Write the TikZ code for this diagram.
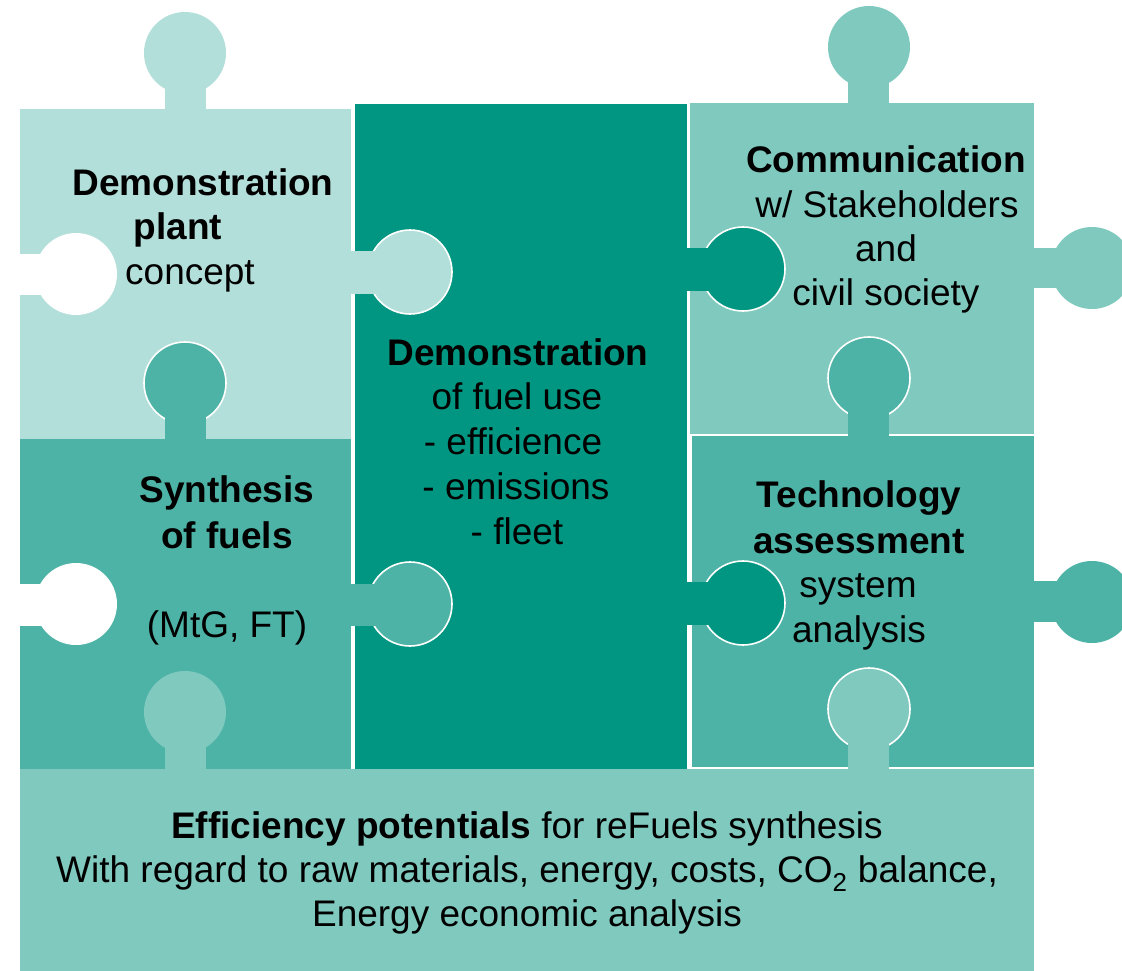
\documentclass[tikz,border=0pt]{standalone}
\usepackage{fontspec}
\setmainfont{Liberation Sans}
\definecolor{cLight}{HTML}{B2DFDA}
\definecolor{cMid}{HTML}{4DB3A6}
\definecolor{cDark}{HTML}{009681}
\definecolor{cSoft}{HTML}{7FC9BF}
\tikzset{
  txt/.style={anchor=base, inner sep=0pt, font=\fontsize{37}{44}\selectfont},
  btxt/.style={anchor=base, inner sep=0pt, font=\fontsize{37}{44}\selectfont\bfseries},
  rim/.style={draw=white, line width=1.6pt},
}
\begin{document}
\begin{tikzpicture}[x=1pt,y=-1pt]
\useasboundingbox (0,0) rectangle (1122,970);
\clip (0,0) rectangle (1122,970);
% piece bodies
\fill[cLight] (20,109) rectangle (351,439);
\fill[cMid]   (20,439) rectangle (351,769);
\fill[cDark]  (355,104) rectangle (687,769);
\fill[cSoft]  (690,103) rectangle (1034,434);
\fill[cMid]   (692,436) rectangle (1034,767);
\fill[cSoft]  (20,769) rectangle (1034,980);
% piece 1 tabs
\fill[cLight] (185,53) circle[radius=41];
\fill[cLight] (165,53) rectangle (206,110);
\fill[white] (76,274) circle[radius=41];
\fill[white] (15,254) rectangle (76,295);
\filldraw[fill=cLight, rim] (410,272) circle[radius=42];
\fill[cLight] (350,251) rectangle (410,294);
% synthesis tabs
\filldraw[fill=cMid, rim] (185,383) circle[radius=41];
\fill[cMid] (165,383) rectangle (206,440);
\fill[white] (76,604) circle[radius=41];
\fill[white] (15,584) rectangle (76,626);
\filldraw[fill=cMid, rim] (410,604) circle[radius=42];
\fill[cMid] (350,584) rectangle (410,626);
% bottom piece tab into synthesis
\fill[cSoft] (185,712) circle[radius=41];
\fill[cSoft] (165,712) rectangle (206,770);
% middle tabs
\filldraw[fill=cDark, rim] (743,269) circle[radius=42];
\fill[cDark] (686,248) rectangle (743,291);
\filldraw[fill=cDark, rim] (743,603) circle[radius=42];
\fill[cDark] (686,582) rectangle (743,625);
% communication tabs
\fill[cSoft] (869,47) circle[radius=41];
\fill[cSoft] (848,47) rectangle (889,104);
\fill[cSoft] (1092,268) circle[radius=41];
\fill[cSoft] (1033,248) rectangle (1092,288);
% technology tabs
\filldraw[fill=cMid, rim] (869,378) circle[radius=41];
\fill[cMid] (848,378) rectangle (889,437);
\fill[cMid] (1092,602) circle[radius=41];
\fill[cMid] (1033,581) rectangle (1092,622);
% bottom tab into technology
\filldraw[fill=cSoft, rim] (869,709) circle[radius=41];
\fill[cSoft] (848,709) rectangle (889,770);
% texts: demonstration plant
\node[btxt] (p1a) at (203,195) {Demonstration};
\node[btxt] (p1b) at (178,239) {plant};
\node[txt]  (p1c) at (190,284) {concept};
% middle
\node[btxt] (m1) at (518,365) {Demonstration};
\node[txt]  (m2) at (517,409) {of fuel use};
\node[txt]  (m3) at (513,454) {- efficience};
\node[txt]  (m4) at (516,499) {- emissions};
\node[txt]  (m5) at (517,544) {- fleet};
% communication
\node[btxt] (c1) at (886,172) {Communication};
\node[txt]  (c2) at (887,217) {w/ Stakeholders};
\node[txt]  (c3) at (886,261) {and};
\node[txt]  (c4) at (886,305) {civil society};
% technology
\node[btxt] (t1) at (859,507) {Technology};
\node[btxt] (t2) at (859,553) {assessment};
\node[txt]  (t3) at (858,597) {system};
\node[txt]  (t4) at (859,642) {analysis};
% synthesis
\node[btxt] (s1) at (227,502) {Synthesis};
\node[btxt] (s2) at (227,548) {of fuels};
\node[txt]  (s3) at (227,637) {(MtG, FT)};
% bottom
\node[txt] (b1) at (527,838) {\textbf{Efficiency potentials} for reFuels synthesis};
\node[txt] (b2) at (527,882) {With regard to raw materials, energy, costs, CO\textsubscript{2} balance,};
\node[txt] (b3) at (527,926) {Energy economic analysis};
\end{tikzpicture}
\end{document}
